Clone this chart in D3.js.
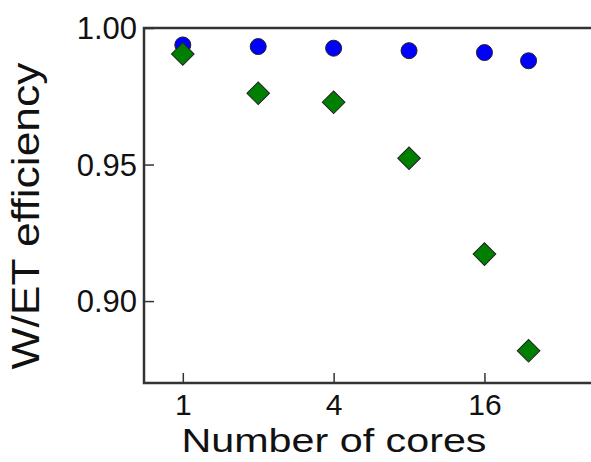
<!DOCTYPE html>
<html>
<head>
<meta charset="utf-8">
<script src="https://cdn.jsdelivr.net/npm/d3@7"></script>
<style>
  body { margin: 0; background: #fff; }
  text { font-family: "Liberation Sans", Arial, sans-serif; fill: #111; }
</style>
</head>
<body>
<div id="chart"></div>
<script>
// data
const cores = [1, 2, 4, 8, 16, 24];
const circleSeries = [0.9938, 0.9932, 0.9926, 0.9917, 0.9910, 0.9880];
const diamondSeries = [0.9905, 0.9761, 0.9728, 0.9523, 0.9172, 0.8818];
const xTicks = [1, 4, 16];
const yTicks = [0.90, 0.95, 1.00];

const W = 591, H = 462;
const plot = { left: 144, top: 28, right: 591, bottom: 383 };

const svg = d3.select("#chart").append("svg")
  .attr("width", W).attr("height", H);

const x = d3.scaleLog().base(2)
  .domain([0.7, 42.6])
  .range([plot.left, plot.right]);
const y = d3.scaleLinear()
  .domain([0.87, 1.00])
  .range([plot.bottom, plot.top]);

// frame: left, top, bottom (right side is cut off)
svg.append("path")
  .attr("d", `M${plot.right},${plot.top}H${plot.left}V${plot.bottom}H${plot.right}`)
  .attr("fill", "none")
  .attr("stroke", "#333")
  .attr("stroke-width", 2.5);

// x axis, ticks pointing inward
const gx = svg.append("g")
  .attr("transform", `translate(0,${plot.bottom})`)
  .call(d3.axisBottom(x).tickValues(xTicks).tickSize(-10).tickFormat(d3.format("d")));
gx.select(".domain").remove();
gx.selectAll(".tick line").attr("stroke", "#333").attr("stroke-width", 1.5);
gx.selectAll(".tick text")
  .attr("y", 32).attr("dy", 0)
  .style("font-size", "30px");

// y axis
const gy = svg.append("g")
  .attr("transform", `translate(${plot.left},0)`)
  .call(d3.axisLeft(y).tickValues(yTicks).tickSize(-10).tickFormat(d3.format(".2f")));
gy.select(".domain").remove();
gy.selectAll(".tick line").attr("stroke", "#333").attr("stroke-width", 1.5);
gy.selectAll(".tick text")
  .attr("x", -7).attr("dy", "0.35em")
  .style("font-size", "31px");

// axis titles
svg.append("text")
  .attr("x", 334).attr("y", 452)
  .attr("text-anchor", "middle")
  .attr("textLength", 305)
  .attr("lengthAdjust", "spacingAndGlyphs")
  .style("font-size", "34px")
  .text("Number of cores");

svg.append("text")
  .attr("transform", "translate(39,216) rotate(-90)")
  .attr("text-anchor", "middle")
  .attr("textLength", 307)
  .attr("lengthAdjust", "spacingAndGlyphs")
  .style("font-size", "38px")
  .text("W/ET efficiency");

// circles
svg.selectAll(".circ")
  .data(cores.map((c, i) => ({ c, v: circleSeries[i] })))
  .enter().append("circle")
  .attr("class", "circ")
  .attr("cx", d => x(d.c))
  .attr("cy", d => y(d.v))
  .attr("r", 8)
  .attr("fill", "#0000ff")
  .attr("stroke", "#222")
  .attr("stroke-width", 1);

// diamonds
const diamond = d3.symbol().type(d3.symbolSquare).size(2 * 8 * 8 * 2);
svg.selectAll(".diam")
  .data(cores.map((c, i) => ({ c, v: diamondSeries[i] })))
  .enter().append("path")
  .attr("class", "diam")
  .attr("d", diamond)
  .attr("transform", d => `translate(${x(d.c)},${y(d.v)}) rotate(45)`)
  .attr("fill", "#007f00")
  .attr("stroke", "#222")
  .attr("stroke-width", 1);
</script>
</body>
</html>
